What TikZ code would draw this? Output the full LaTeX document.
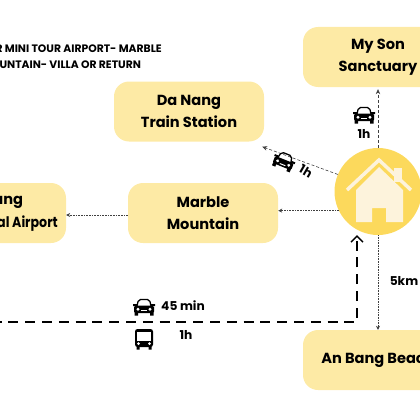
\documentclass[tikz,border=0pt]{standalone}
\usepackage{fontspec}
\setmainfont{Poppins}
\usetikzlibrary{arrows.meta}
\definecolor{boxyellow}{HTML}{FDEAA5}
\definecolor{sunyellow}{HTML}{FCD95C}
\definecolor{housecream}{HTML}{FDF3DC}
\tikzset{
  place/.style={fill=boxyellow, rounded corners=15pt, minimum width=150pt, minimum height=60pt,
    align=center, font=\fontsize{14.6}{22.5}\selectfont\bfseries},
  timelabel/.style={font=\fontsize{12.2}{14}\selectfont\bfseries},
  dashline/.style={densely dashed, black!75, line width=0.6pt, -{Stealth[length=5pt,width=4.5pt]}},
  dotline/.style={densely dotted, black!75, line width=0.6pt, -{Stealth[length=4pt,width=4pt]}},
  bigline/.style={black, line width=1.2pt, dash pattern=on 10pt off 6.8pt, dash phase=8.4pt,
    -{Straight Barb[length=6pt,width=12pt,line width=1.3pt]}},
  carfront/.pic={
    \draw[line width=1.3pt, rounded corners=2pt] (-7,-1) -- (-5.5,-7.5) -- (5.5,-7.5) -- (7,-1);
    \fill[rounded corners=1.5pt] (-10,-1.5) rectangle (10,6);
    \fill (-11,-3) rectangle (-7,-1) (7,-3) rectangle (11,-1);
    \fill (-9.5,5) rectangle (-6,8.5) (6,5) rectangle (9.5,8.5);
    \fill[white] (-6,2.2) circle (1.6) (6,2.2) circle (1.6);
    \fill[white] (-3,3.4) rectangle (3,4.4);
  },
  busfront/.pic={
    \fill[rounded corners=2.5pt] (-9,-10) rectangle (9,8);
    \fill[white] (-7,-7.5) rectangle (7,1.5);
    \fill (-7.5,7) rectangle (-4.5,10.5) (4.5,7) rectangle (7.5,10.5);
    \fill[white] (-5.5,4.6) circle (1.5) (5.5,4.6) circle (1.5);
  },
}
\begin{document}
\begin{tikzpicture}[x=1pt, y=-1pt]
  \useasboundingbox (0,0) rectangle (420,420);
  \foreach \x/\y/\name/\txt in {
      189/111.5/train/{Da Nang\\Train Station},
      378/57/myson/{My Son\\Sanctuary},
      -9/213/airport/{Da Nang\\\scalebox{0.865}[1]{International Airport}},
      203/213/marble/{Marble\\Mountain},
      378/360/beach/{An Bang Beach}} {
    \node[place] (\name) at (\x,\y) {\txt};
  }
  \node[circle, fill=sunyellow, minimum size=87pt, inner sep=0pt] (home) at (378,191.5) {};
  % house
  \fill[housecream] (356,190) -- (379,167) -- (403,190) -- (403,222) -- (386,222) -- (386,208)
    -- (372,208) -- (372,222) -- (356,222) -- cycle;
  \fill[housecream] (394,168) rectangle (402,182);
  \draw[housecream, line width=3.5pt] (347,190) -- (379,160) -- (411,190);
  \draw[dashline] (home.157) -- ([xshift=-2pt,yshift=-5pt]train.east |- train.south);
  \draw[dashline, shorten >=2pt] (home.north) -- (myson.south);
  \draw[dotline] (home.206) -- (home.206 -| marble.east);
  \draw[dotline] ([yshift=-2pt]marble.west) -- ([yshift=-2pt]airport.east);
  \draw[dotline] (home.south) -- (beach.north);
  \coordinate (start) at (0,322);
  \coordinate (corner) at (357,322);
  \draw[bigline] (start) -- (corner) -- (corner |- home.south);
  \pic at (364,115) {carfront};
  \pic[rotate=-22] at (284,161) {carfront};
  \pic at (144,307) {carfront};
  \pic at (144,339) {busfront};
  \node[timelabel] (myson time) at (364,134) {1h};
  \node[timelabel, rotate=-30] (train time) at (306,171) {1h};
  \node[timelabel] (car time) at (183,306) {45 min};
  \node[timelabel] (bus time) at (186,335) {1h};
  \node[timelabel] (beach dist) at (404,281) {5km};
  \node[font=\fontsize{10.8}{16}\selectfont\bfseries, align=left, anchor=north east, inner sep=0pt]
    (title) at (162,44.5) {FOR MINI TOUR AIRPORT- MARBLE\\MOUNTAIN- VILLA OR RETURN};
\end{tikzpicture}
\end{document}
